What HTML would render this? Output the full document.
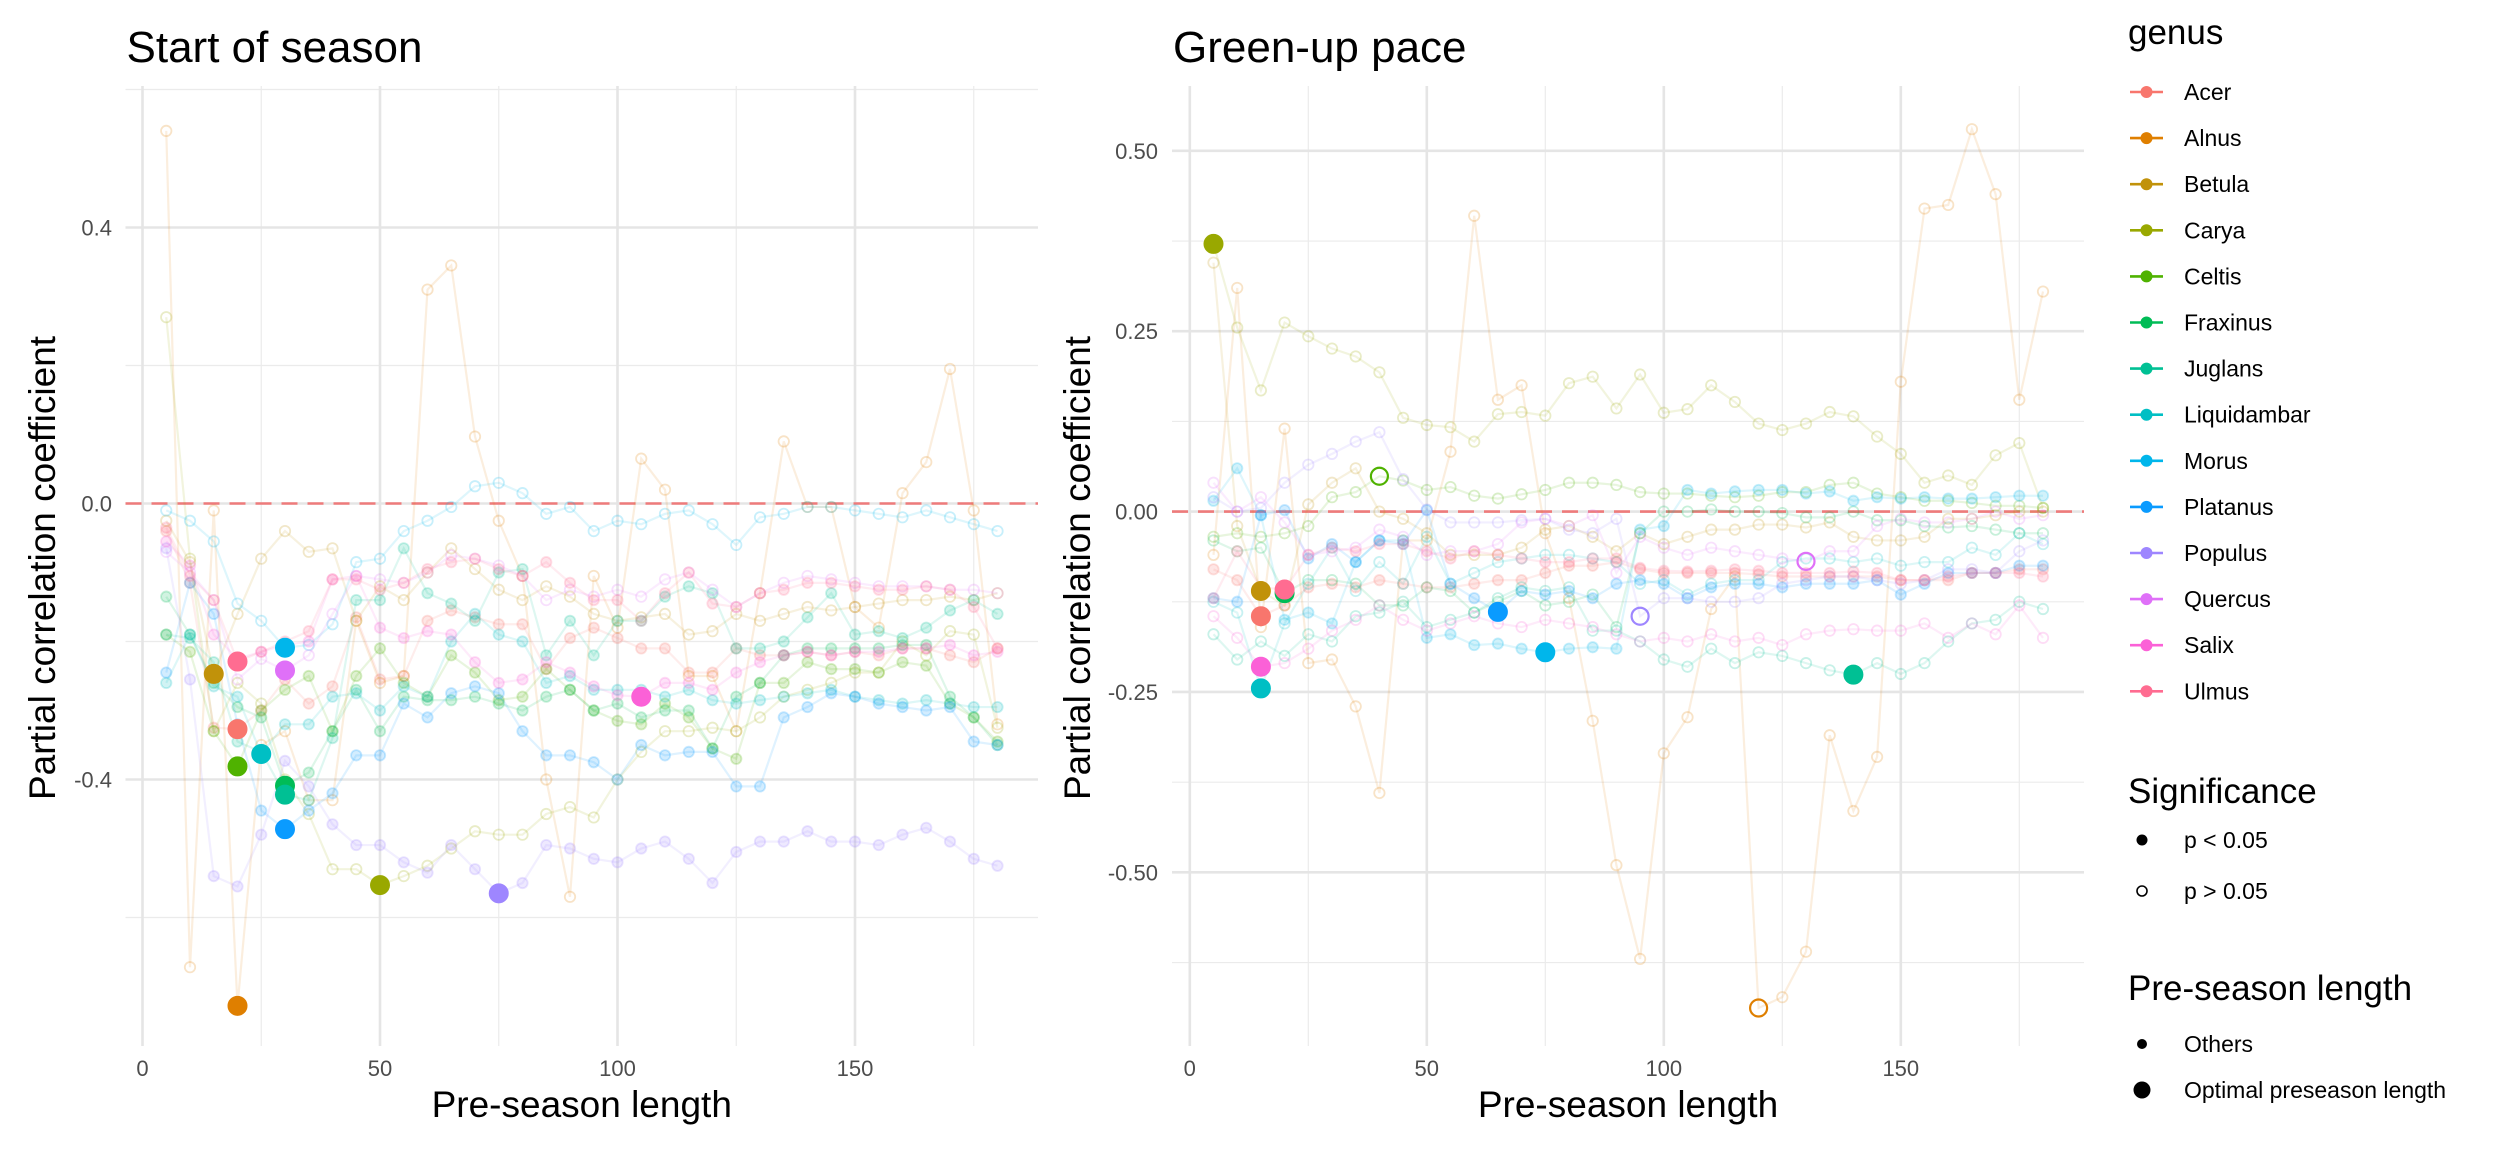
<!DOCTYPE html>
<html><head><meta charset="utf-8"><style>
html,body{margin:0;padding:0;background:#fff;}
svg{display:block;font-family:"Liberation Sans",Arial,sans-serif;}
</style></head><body>
<svg id="chart" width="2496" height="1152" viewBox="0 0 2496 1152" xmlns="http://www.w3.org/2000/svg"></svg>
<script>
// ---- data ----
const genera = ["Acer","Alnus","Betula","Carya","Celtis","Fraxinus","Juglans","Liquidambar","Morus","Platanus","Populus","Quercus","Salix","Ulmus"];
const colors = ["#F8766D","#DF7F00","#C1920A","#99A800","#4FB200","#00BC56","#00C094","#00BFC4","#00B6EB","#0A9BFF","#9E86FF","#DF70F8","#FB61D7","#FF6C91"];
const lengths = [5,10,15,20,25,30,35,40,45,50,55,60,65,70,75,80,85,90,95,100,105,110,115,120,125,130,135,140,145,150,155,160,165,170,175,180];
const sosXTicks = [0,50,100,150];
const sosYTicks = [-0.4,0.0,0.4];
const sosYLabels = ["-0.4","0.0","0.4"];
const gupXTicks = [0,50,100,150];
const gupYTicks = [-0.5,-0.25,0,0.25,0.5];
const gupYLabels = ["-0.50","-0.25","0.00","0.25","0.50"];

const sosValues = {
Acer:[-0.04,-0.115,-0.325,-0.327,-0.3,-0.255,-0.29,-0.265,-0.165,-0.255,-0.25,-0.17,-0.155,-0.165,-0.175,-0.175,-0.24,-0.195,-0.18,-0.195,-0.21,-0.21,-0.245,-0.245,-0.21,-0.22,-0.22,-0.215,-0.22,-0.215,-0.22,-0.21,-0.21,-0.22,-0.23,-0.21],
Alnus:[0.54,-0.672,-0.01,-0.728,-0.35,-0.33,-0.43,-0.43,-0.17,-0.26,-0.25,0.31,0.345,0.097,-0.025,-0.105,-0.4,-0.57,-0.105,-0.18,0.065,0.02,-0.25,-0.25,-0.33,-0.13,0.09,-0.005,-0.005,-0.15,-0.18,0.015,0.06,0.195,-0.01,-0.32],
Betula:[-0.025,-0.085,-0.247,-0.16,-0.08,-0.04,-0.07,-0.065,-0.17,-0.12,-0.14,-0.1,-0.065,-0.095,-0.125,-0.14,-0.12,-0.135,-0.16,-0.17,-0.165,-0.16,-0.19,-0.185,-0.16,-0.17,-0.16,-0.15,-0.155,-0.15,-0.145,-0.14,-0.14,-0.135,-0.14,-0.13],
Carya:[0.27,-0.08,-0.33,-0.26,-0.29,-0.4,-0.45,-0.53,-0.53,-0.553,-0.54,-0.525,-0.5,-0.475,-0.48,-0.48,-0.45,-0.44,-0.455,-0.4,-0.36,-0.33,-0.33,-0.325,-0.33,-0.31,-0.28,-0.27,-0.26,-0.245,-0.245,-0.2,-0.22,-0.185,-0.19,-0.325],
Celtis:[-0.19,-0.215,-0.33,-0.381,-0.3,-0.27,-0.25,-0.33,-0.25,-0.21,-0.26,-0.28,-0.22,-0.245,-0.285,-0.28,-0.24,-0.27,-0.3,-0.315,-0.32,-0.29,-0.31,-0.355,-0.37,-0.26,-0.26,-0.23,-0.24,-0.24,-0.245,-0.23,-0.235,-0.29,-0.31,-0.345],
Fraxinus:[-0.135,-0.19,-0.26,-0.295,-0.31,-0.409,-0.39,-0.33,-0.27,-0.33,-0.28,-0.285,-0.285,-0.28,-0.29,-0.3,-0.28,-0.27,-0.3,-0.29,-0.31,-0.3,-0.3,-0.355,-0.28,-0.26,-0.22,-0.21,-0.21,-0.21,-0.21,-0.205,-0.205,-0.28,-0.31,-0.35],
Juglans:[-0.19,-0.195,-0.23,-0.345,-0.36,-0.422,-0.43,-0.34,-0.14,-0.14,-0.065,-0.13,-0.145,-0.17,-0.1,-0.095,-0.22,-0.17,-0.22,-0.17,-0.17,-0.135,-0.12,-0.13,-0.21,-0.21,-0.2,-0.165,-0.13,-0.19,-0.185,-0.195,-0.18,-0.155,-0.14,-0.16],
Liquidambar:[-0.26,-0.19,-0.265,-0.28,-0.363,-0.32,-0.32,-0.28,-0.275,-0.3,-0.265,-0.28,-0.2,-0.16,-0.19,-0.2,-0.26,-0.25,-0.27,-0.27,-0.27,-0.28,-0.27,-0.285,-0.29,-0.285,-0.28,-0.275,-0.27,-0.28,-0.285,-0.29,-0.285,-0.29,-0.295,-0.295],
Morus:[-0.01,-0.025,-0.055,-0.145,-0.17,-0.209,-0.205,-0.175,-0.085,-0.08,-0.04,-0.025,-0.005,0.025,0.03,0.015,-0.015,-0.005,-0.04,-0.025,-0.03,-0.015,-0.01,-0.03,-0.06,-0.02,-0.015,-0.005,-0.005,-0.01,-0.015,-0.02,-0.01,-0.02,-0.03,-0.04],
Platanus:[-0.245,-0.115,-0.16,-0.32,-0.445,-0.472,-0.445,-0.42,-0.365,-0.365,-0.29,-0.31,-0.275,-0.265,-0.275,-0.33,-0.365,-0.365,-0.375,-0.4,-0.35,-0.365,-0.36,-0.36,-0.41,-0.41,-0.31,-0.295,-0.275,-0.28,-0.29,-0.295,-0.3,-0.295,-0.345,-0.35],
Populus:[-0.065,-0.255,-0.54,-0.555,-0.48,-0.373,-0.41,-0.465,-0.495,-0.495,-0.52,-0.535,-0.495,-0.53,-0.565,-0.55,-0.495,-0.5,-0.515,-0.52,-0.5,-0.49,-0.515,-0.55,-0.505,-0.49,-0.49,-0.475,-0.49,-0.49,-0.495,-0.48,-0.47,-0.49,-0.515,-0.525],
Quercus:[-0.07,-0.1,-0.14,-0.255,-0.225,-0.242,-0.22,-0.16,-0.105,-0.11,-0.115,-0.1,-0.075,-0.08,-0.09,-0.105,-0.14,-0.125,-0.135,-0.125,-0.135,-0.11,-0.1,-0.125,-0.15,-0.13,-0.115,-0.105,-0.11,-0.115,-0.12,-0.12,-0.12,-0.125,-0.125,-0.13],
Salix:[-0.055,-0.09,-0.19,-0.225,-0.215,-0.205,-0.2,-0.11,-0.105,-0.18,-0.195,-0.185,-0.19,-0.23,-0.26,-0.255,-0.23,-0.245,-0.265,-0.278,-0.28,-0.26,-0.26,-0.27,-0.245,-0.23,-0.22,-0.215,-0.22,-0.215,-0.215,-0.21,-0.21,-0.205,-0.22,-0.215],
Ulmus:[-0.035,-0.105,-0.14,-0.229,-0.215,-0.2,-0.185,-0.11,-0.11,-0.125,-0.115,-0.095,-0.085,-0.08,-0.095,-0.105,-0.085,-0.115,-0.14,-0.14,-0.17,-0.13,-0.1,-0.145,-0.15,-0.13,-0.125,-0.115,-0.115,-0.12,-0.125,-0.125,-0.12,-0.125,-0.15,-0.21]
};
const sosOptimal = [20,20,15,50,20,30,30,25,30,30,75,30,105,20];
const sosOptimalSig = [1,1,1,1,1,1,1,1,1,1,1,1,1,1];
const sosOtherSig = [1,0,0,0,1,1,1,1,0,1,1,0,1,1];

const gupValues = {
Acer:[-0.08,-0.095,-0.145,-0.13,-0.105,-0.1,-0.105,-0.095,-0.1,-0.105,-0.105,-0.1,-0.095,-0.095,-0.085,-0.075,-0.075,-0.07,-0.08,-0.085,-0.085,-0.085,-0.085,-0.087,-0.09,-0.09,-0.09,-0.09,-0.09,-0.095,-0.095,-0.095,-0.085,-0.085,-0.08,-0.08],
Alnus:[-0.06,0.31,-0.16,0.115,-0.21,-0.205,-0.27,-0.39,-0.04,-0.04,0.083,0.41,0.155,0.175,-0.03,-0.12,-0.29,-0.49,-0.62,-0.335,-0.285,-0.135,-0.09,-0.688,-0.673,-0.61,-0.31,-0.415,-0.34,0.18,0.42,0.425,0.53,0.44,0.155,0.305],
Betula:[0.345,-0.02,-0.11,-0.13,0.01,0.04,0.06,0.0,-0.01,-0.03,-0.06,-0.06,-0.06,-0.05,-0.025,-0.02,-0.035,-0.055,-0.03,-0.045,-0.035,-0.025,-0.025,-0.018,-0.018,-0.022,-0.015,-0.035,-0.04,-0.04,-0.035,-0.01,-0.01,-0.005,0.0,0.0],
Carya:[0.371,0.255,0.168,0.262,0.243,0.226,0.215,0.193,0.13,0.12,0.117,0.097,0.135,0.138,0.133,0.178,0.187,0.143,0.19,0.137,0.142,0.175,0.152,0.122,0.113,0.122,0.138,0.132,0.104,0.08,0.04,0.05,0.037,0.078,0.095,0.005],
Celtis:[-0.035,-0.03,-0.035,-0.03,-0.02,0.02,0.027,0.049,0.043,0.03,0.034,0.022,0.018,0.024,0.03,0.04,0.04,0.037,0.027,0.025,0.025,0.022,0.02,0.022,0.027,0.027,0.037,0.04,0.025,0.02,0.015,0.015,0.012,0.008,0.008,0.005],
Fraxinus:[-0.04,-0.055,-0.05,-0.113,-0.095,-0.095,-0.1,-0.13,-0.13,-0.105,-0.11,-0.14,-0.125,-0.11,-0.13,-0.125,-0.115,-0.16,-0.03,0.0,0.0,0.003,0.0,0.0,-0.002,-0.008,-0.008,0.0,-0.012,-0.012,-0.02,-0.022,-0.02,-0.025,-0.03,-0.03],
Juglans:[-0.17,-0.205,-0.18,-0.2,-0.17,-0.18,-0.145,-0.14,-0.125,-0.16,-0.15,-0.14,-0.12,-0.105,-0.11,-0.105,-0.165,-0.165,-0.18,-0.205,-0.215,-0.19,-0.21,-0.195,-0.2,-0.21,-0.22,-0.226,-0.21,-0.225,-0.21,-0.18,-0.155,-0.15,-0.125,-0.135],
Liquidambar:[-0.125,-0.14,-0.245,-0.155,-0.1,-0.05,-0.11,-0.07,-0.1,-0.035,-0.1,-0.085,-0.07,-0.065,-0.06,-0.06,-0.065,-0.07,-0.1,-0.095,-0.115,-0.1,-0.095,-0.095,-0.07,-0.065,-0.065,-0.07,-0.065,-0.075,-0.07,-0.07,-0.05,-0.06,-0.03,-0.045],
Morus:[0.015,0.06,-0.005,-0.15,-0.14,-0.155,-0.07,-0.04,-0.04,-0.175,-0.17,-0.185,-0.183,-0.19,-0.195,-0.19,-0.188,-0.19,-0.025,-0.02,0.03,0.025,0.028,0.03,0.03,0.025,0.028,0.015,0.02,0.018,0.02,0.018,0.018,0.02,0.022,0.022],
Platanus:[-0.12,-0.125,-0.005,0.002,-0.065,-0.045,-0.07,-0.04,-0.045,0.002,-0.1,-0.12,-0.139,-0.11,-0.115,-0.11,-0.12,-0.1,-0.095,-0.1,-0.12,-0.105,-0.1,-0.1,-0.105,-0.1,-0.1,-0.1,-0.095,-0.115,-0.1,-0.085,-0.085,-0.085,-0.075,-0.075],
Populus:[0.02,0.0,0.005,0.04,0.065,0.08,0.097,0.11,0.045,0.003,-0.015,-0.015,-0.015,-0.012,-0.01,-0.025,-0.03,-0.01,-0.145,-0.12,-0.12,-0.125,-0.125,-0.12,-0.1,-0.095,-0.09,-0.09,-0.095,-0.1,-0.095,-0.08,-0.08,-0.085,-0.055,-0.04],
Quercus:[0.04,0.0,0.02,-0.015,-0.06,-0.055,-0.05,-0.025,-0.035,-0.06,-0.055,-0.055,-0.045,-0.015,-0.01,-0.02,-0.005,-0.085,-0.035,-0.05,-0.06,-0.05,-0.055,-0.06,-0.065,-0.069,-0.055,-0.055,-0.02,-0.01,-0.015,-0.015,-0.01,0.0,-0.01,-0.005],
Salix:[-0.145,-0.175,-0.215,-0.21,-0.19,-0.165,-0.15,-0.13,-0.15,-0.165,-0.155,-0.145,-0.155,-0.16,-0.15,-0.155,-0.16,-0.17,-0.18,-0.175,-0.18,-0.17,-0.18,-0.175,-0.185,-0.17,-0.165,-0.163,-0.165,-0.165,-0.155,-0.175,-0.155,-0.17,-0.13,-0.175],
Ulmus:[-0.12,-0.055,-0.105,-0.108,-0.06,-0.05,-0.055,-0.045,-0.045,-0.055,-0.065,-0.055,-0.06,-0.065,-0.07,-0.07,-0.065,-0.065,-0.078,-0.082,-0.083,-0.082,-0.08,-0.082,-0.085,-0.085,-0.085,-0.083,-0.085,-0.095,-0.095,-0.09,-0.085,-0.085,-0.085,-0.09]
};
const gupOptimal = [15,120,15,5,40,20,140,15,75,65,95,130,15,20];
const gupOptimalSig = [1,0,1,1,0,1,1,1,1,1,0,0,1,1];
const gupOtherSig = [1,0,0,0,0,0,0,0,1,1,0,0,0,1];

// ---- drawing ----
const NS = "http://www.w3.org/2000/svg";
const svg = document.getElementById("chart");
function mk(tag, attrs, parent) {
  const e = document.createElementNS(NS, tag);
  for (const k in attrs) e.setAttribute(k, attrs[k]);
  (parent || svg).appendChild(e);
  return e;
}
function txt(str, attrs, parent) {
  const e = mk("text", attrs, parent);
  e.textContent = str;
  return e;
}

function drawPanel(cfg) {
  const g = mk("g", {});
  
  
  const xs = v => cfg.x0 + v * cfg.xk;
  const ys = v => cfg.y0 - v * cfg.yk;
  cfg.minorX.forEach(v => {
    const l = mk("line", {x1: xs(v), x2: xs(v), y1: cfg.top, y2: cfg.bottom, stroke: "#EBEBEB", "stroke-width": 1.2}, g);
    
    
  });
  cfg.minorY.forEach(v => {
    const l = mk("line", {x1: cfg.left, x2: cfg.right, y1: ys(v), y2: ys(v), stroke: "#EBEBEB", "stroke-width": 1.2}, g);
    
    
  });
  cfg.xTicks.forEach(v => {
    const l = mk("line", {x1: xs(v), x2: xs(v), y1: cfg.top, y2: cfg.bottom, stroke: "#E5E5E5", "stroke-width": 2.6}, g);
    
    
    const t = txt(String(v), {x: xs(v), y: 1076, "font-size": 22, fill: "#4D4D4D", "text-anchor": "middle"}, g);
    
    
  });
  cfg.yTicks.forEach((v, i) => {
    const l = mk("line", {x1: cfg.left, x2: cfg.right, y1: ys(v), y2: ys(v), stroke: "#E5E5E5", "stroke-width": 2.6}, g);
    
    
    const t = txt(cfg.yLabels[i], {x: cfg.tickRight, y: ys(v) + 8, "font-size": 22, fill: "#4D4D4D", "text-anchor": "end"}, g);
    
    
  });
  const z = mk("line", {x1: cfg.left, x2: cfg.right, y1: ys(0), y2: ys(0), stroke: "#F07070", "stroke-width": 2.6, "stroke-dasharray": "16 10", opacity: 0.9}, g);
  
  
  genera.forEach((gen, gi) => {
    const vals = cfg.values[gen];
    const c = colors[gi];
    const sg = mk("g", {}, g);
    
    
    const pts = lengths.map((L, i) => xs(L) + "," + ys(vals[i])).join(" ");
    const pl = mk("polyline", {points: pts, fill: "none", stroke: c, "stroke-width": 2.2, "stroke-opacity": 0.13}, sg);
    
    
    lengths.forEach((L, i) => {
      if (L === cfg.optimal[gi]) return;
      const filled = cfg.otherSig[gi];
      const p = mk("circle", {cx: xs(L), cy: ys(vals[i]), r: 5.2,
        fill: filled ? c : "none", "fill-opacity": 0.18,
        stroke: c, "stroke-opacity": 0.22, "stroke-width": 1.8}, sg);
      
      
    });
  });
  genera.forEach((gen, gi) => {
    const L = cfg.optimal[gi];
    const i = lengths.indexOf(L);
    const v = cfg.values[gen][i];
    const c = colors[gi];
    const sig = cfg.optSig[gi];
    const p = mk("circle", {cx: xs(L), cy: ys(v), r: sig ? 9.5 : 8.5,
      fill: sig ? c : "none", stroke: c, "stroke-width": sig ? 1 : 2.2}, g);
    
    
  });
  const tt = txt(cfg.title, {x: cfg.left + 1, y: 62, "font-size": 44, fill: "#000"}, g);
  
  
  const xt = txt("Pre-season length", {x: (cfg.left + cfg.right) / 2, y: 1117, "font-size": 37, fill: "#000", "text-anchor": "middle"}, g);
  
  
  const yt = txt("Partial correlation coefficient", {x: 0, y: 0, "font-size": 37, fill: "#000", "text-anchor": "middle", transform: "translate(" + cfg.yTitleX + ",568) rotate(-90)"}, g);
  
  
}

drawPanel({name: "start-of-season-panel", title: "Start of season",
  x0: 142.5, xk: 4.75, y0: 503.5, yk: 690, left: 125.5, right: 1038, top: 86, bottom: 1046,
  xTicks: sosXTicks, minorX: [25,75,125,175], yTicks: sosYTicks, yLabels: sosYLabels, minorY: [-0.6,-0.2,0.2,0.6],
  tickRight: 112, yTitleX: 55, values: sosValues, optimal: sosOptimal, optSig: sosOptimalSig, otherSig: sosOtherSig});
drawPanel({name: "green-up-pace-panel", title: "Green-up pace",
  x0: 1189.8, xk: 4.74, y0: 511.6, yk: 721.5, left: 1172, right: 2084, top: 86, bottom: 1046,
  xTicks: gupXTicks, minorX: [25,75,125,175], yTicks: gupYTicks, yLabels: gupYLabels, minorY: [-0.625,-0.375,-0.125,0.125,0.375],
  tickRight: 1158, yTitleX: 1090, values: gupValues, optimal: gupOptimal, optSig: gupOptimalSig, otherSig: gupOtherSig});

// ---- legend ----
const lg = mk("g", {});


const gt = txt("genus", {x: 2128, y: 44, "font-size": 35, fill: "#000"}, lg);


genera.forEach((gen, i) => {
  const cy = 92 + i * 46.1;
  const e = mk("g", {}, lg);
  
  
  mk("line", {x1: 2130, x2: 2163, y1: cy, y2: cy, stroke: colors[i], "stroke-width": 2.6}, e);
  mk("circle", {cx: 2146.5, cy: cy, r: 6, fill: colors[i]}, e);
  txt(gen, {x: 2184, y: cy + 8, "font-size": 23, fill: "#000"}, e);
});
const st = txt("Significance", {x: 2128, y: 803, "font-size": 35, fill: "#000"}, lg);


const s1 = mk("g", {}, lg);


mk("circle", {cx: 2142, cy: 840, r: 5.5, fill: "#000"}, s1);
txt("p < 0.05", {x: 2184, y: 848, "font-size": 23, fill: "#000"}, s1);
const s2 = mk("g", {}, lg);


mk("circle", {cx: 2142, cy: 891, r: 5, fill: "none", stroke: "#000", "stroke-width": 1.6}, s2);
txt("p > 0.05", {x: 2184, y: 899, "font-size": 23, fill: "#000"}, s2);
const pt = txt("Pre-season length", {x: 2128, y: 1000, "font-size": 35, fill: "#000"}, lg);


const p1 = mk("g", {}, lg);


mk("circle", {cx: 2142, cy: 1044, r: 5, fill: "#000"}, p1);
txt("Others", {x: 2184, y: 1052, "font-size": 23, fill: "#000"}, p1);
const p2 = mk("g", {}, lg);


mk("circle", {cx: 2142, cy: 1090, r: 8.5, fill: "#000"}, p2);
txt("Optimal preseason length", {x: 2184, y: 1098, "font-size": 23, fill: "#000"}, p2);
</script>
</body></html>
